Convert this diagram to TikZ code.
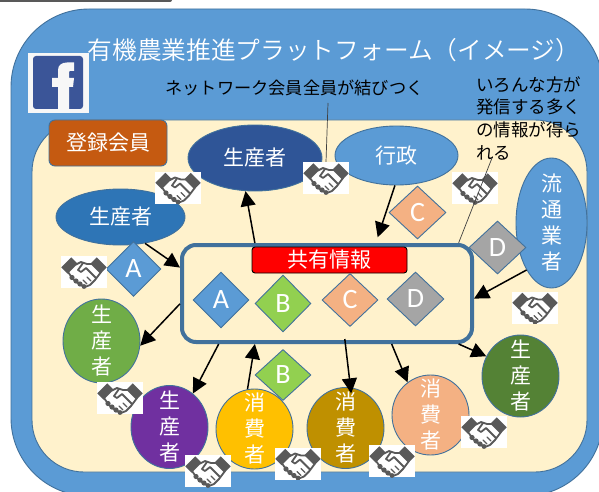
\documentclass[tikz,border=0pt]{standalone}
\usepackage{fontspec}
\setmainfont{Noto Sans CJK JP}
\newfontfamily\latfont{Carlito}
\newfontfamily\lightjp{Noto Sans CJK JP DemiLight}
\usetikzlibrary{shapes.geometric,arrows.meta}
\definecolor{edgeblue}{HTML}{41719C}
\definecolor{skyblue}{HTML}{5B9BD5}
\definecolor{creamy}{HTML}{FFF2CC}
\definecolor{iconGray}{HTML}{595959}
\definecolor{peachy}{HTML}{F4B183}
\definecolor{limey}{HTML}{92D050}
\definecolor{grayD}{HTML}{A5A5A5}
\definecolor{fbblue}{HTML}{3B5598}
\tikzset{
  jp/.style={font=\fontsize{#1}{#1}\selectfont},
  oval/.style={ellipse,draw=edgeblue,line width=0.9pt,text=white,inner sep=0pt,font=\fontsize{21}{26}\selectfont},
  stacked/.style={label={[text=white,align=center,inner sep=0pt,font=\fontsize{21}{26}\selectfont]center:#1}},
  gem/.style={diamond,draw=edgeblue,line width=0.9pt,text=white,inner sep=0pt,font=\latfont\fontsize{28}{28}\selectfont},
  flow/.style={-{Triangle[length=15pt,width=15pt]},line width=1.5pt,black},
  thin line/.style={line width=0.7pt,draw=black!75},
  shake/.style={fill=white,inner sep=0pt,minimum width=46pt,minimum height=32pt,
    path picture={
      \begin{scope}[shift={(path picture bounding box.center)}]
        \fill[iconGray] (-22.7,-4.7)--(-12.7,-14.7)--(-6.3,-8.3)--(-16.3,1.7)--cycle;
        \fill[iconGray] (22.7,-4.7)--(12.7,-14.7)--(6.3,-8.3)--(16.3,1.7)--cycle;
        \draw[iconGray,line width=1.8pt,line join=round,line cap=round]
          (-16,0) -- (-11,7) -- (-5,12) -- (1,15) -- (6,13) -- (11,8) -- (17,0)
          (-8,-7.5) -- (-3,-10) -- (3,-8) -- (8,-8)
          (-1,-9) -- (-6,-2) -- (-3,0) -- (2,-4) -- (12,6);
        \draw[iconGray,line width=1.2pt,line cap=round]
          (7,9)--(3,5) (3,12)--(-1,8);
        \fill[iconGray] (-12,5.5) circle (2.6) (-8,9) circle (2.6) (-4,12) circle (2.6) (0,14.5) circle (2.4);
      \end{scope}
    }},
}
\begin{document}
\begin{tikzpicture}[x=1pt,y=-1pt]
\useasboundingbox (0,0) rectangle (599,492);
\fill[white] (0,0) rectangle (599,492);
\begin{scope}
\clip (0,0) rectangle (599,492);
\fill[iconGray,rounded corners=2pt] (-5,-6) rectangle (172,2);
\draw[edgeblue,fill=skyblue,line width=0.9pt,rounded corners=78pt] (11,9) rectangle (603,496);
\draw[edgeblue,fill=creamy,line width=0.9pt,rounded corners=52pt] (32,120) rectangle (587,472);
\end{scope}

\node[text=white,font=\lightjp\fontsize{24.7}{24.7}\selectfont] (title) at (334,50) {有機農業推進プラットフォーム（イメージ）};
\node[text=black,jp=17.2] (net) at (294.5,88) {ネットワーク会員全員が結びつく};
\node[text=black,align=left,anchor=north west,inner sep=0pt,font=\fontsize{17.5}{22.7}\selectfont] (info) at (476,76) {いろんな方が\\発信する多く\\の情報が得ら\\れる};

% Facebook mark
\node[fill=white!97!black,inner sep=0pt,minimum width=61pt,minimum height=60pt] (fbback) at (58.5,83) {};
\node[fill=fbblue,rounded corners=3pt,inner sep=0pt,minimum width=50pt,minimum height=53pt] (fb) at (58,82.5) {};
\fill[white!97!black] (58,109) -- (58,87) -- (52,87) -- (52,78) -- (58,78) -- (58,70)
  .. controls (58,65) and (62,62.5) .. (67,62.5) -- (74,62.5) -- (74,71) -- (70,71)
  .. controls (69,71) and (69,72) .. (69,73) -- (69,78) -- (74,78) -- (73,87) -- (69,87) -- (69,109) -- cycle;

\node[draw=edgeblue,line width=0.9pt,fill={rgb,255:red,197;green,90;blue,17},rounded corners=6pt,minimum width=118pt,minimum height=46pt,inner sep=0pt,text=white,jp=21] (member) at (108,143) {登録会員};

% ovals
\node[oval,fill={rgb,255:red,47;green,85;blue,151},minimum width=134pt,minimum height=66pt] (prodA) at (255,158) {生産者};
\node[oval,fill=skyblue,minimum width=123pt,minimum height=59pt] (gov) at (396.5,155.5) {行政};
\node[oval,fill={rgb,255:red,46;green,117;blue,182},minimum width=129pt,minimum height=56pt] (prodB) at (120.5,217) {生産者};
\node[oval,fill=skyblue,minimum width=71pt,minimum height=130pt,stacked={流\\通\\業\\者}] (dist) at (551.5,223) {};
\node[oval,fill={rgb,255:red,112;green,173;blue,71},minimum width=77pt,minimum height=84pt,stacked={生\\産\\者}] (prodC) at (101.5,341) {};
\node[oval,fill={rgb,255:red,112;green,48;blue,160},minimum width=77pt,minimum height=83pt,stacked={生\\産\\者}] (prodD) at (169.5,427) {};
\node[oval,fill={rgb,255:red,255;green,192;blue,0},minimum width=77pt,minimum height=80pt,stacked={消\\費\\者}] (consA) at (254.5,429) {};
\node[oval,fill={rgb,255:red,191;green,144;blue,0},minimum width=77pt,minimum height=81pt,stacked={消\\費\\者}] (consB) at (345.5,428) {};
\node[oval,fill=peachy,minimum width=77pt,minimum height=80pt,stacked={消\\費\\者}] (consC) at (430.5,415) {};
\node[oval,fill={rgb,255:red,84;green,130;blue,53},minimum width=77pt,minimum height=82pt,stacked={生\\産\\者}] (prodE) at (520.5,376) {};

% shared information box
\node[draw=edgeblue,line width=4pt,fill=creamy,rounded corners=14pt,minimum width=290pt,minimum height=97pt,inner sep=0pt] (share) at (327,293.5) {};
\node[draw=black,line width=0.9pt,fill=red,rounded corners=3pt,minimum width=155pt,minimum height=26pt,inner sep=0pt,text=white,jp=21] (shared) at (329.5,260) {共有情報};

% arrows
\draw[flow] (share.145) -- (prodA.254);
\draw[flow,shorten >=6pt] (gov.267) -- (share.46);
\draw[flow] (prodB.313) -- (share.170);
\draw[flow] (share.184) -- (prodC.353);
\draw[flow] (share.205) -- (prodD.55);
\draw[flow] (consA.100) -- (share.215);
\draw[flow,shorten <=-5pt,shorten >=-6pt] (share.290) -- (consB.83);
\draw[flow] (share.322) -- (consC.125);
\draw[flow] (share.339) -- (prodE.150);
\draw[flow] (dist.242) -- (share.358);

% diamonds
\node[gem,fill=skyblue,minimum width=56pt,minimum height=56pt] (a1) at (221,300) {A};
\node[gem,fill=limey,minimum width=56pt,minimum height=57pt] (b1) at (283,303.5) {B};
\node[gem,fill=peachy,minimum width=56pt,minimum height=53pt] (c1) at (350,300) {C};
\node[gem,fill=grayD,minimum width=57pt,minimum height=54pt] (d1) at (415.5,299) {D};
\node[gem,fill=skyblue,minimum width=55pt,minimum height=55pt] (a2) at (133.5,269) {A};
\node[gem,fill=limey,minimum width=56pt,minimum height=51pt] (b2) at (283,375) {B};
\node[gem,fill=peachy,minimum width=57pt,minimum height=53pt] (c2) at (417.5,212.5) {C};
\node[gem,fill=grayD,minimum width=57pt,minimum height=53pt] (d2) at (497.5,247.5) {D};

% handshakes
\node[shake] (h1) at (178,187.5) {};
\node[shake] (h2) at (326,178) {};
\node[shake] (h3) at (475,188) {};
\node[shake] (h4) at (84,272) {};
\node[shake] (h5) at (120,398) {};
\node[shake] (h6) at (208,471) {};
\node[shake] (h7) at (298,463.5) {};
\node[shake] (h8) at (392,461) {};
\node[shake] (h9) at (484,432) {};
\node[shake] (h10) at (535,307.5) {};

% callout lines
\coordinate (netfoot) at (328,103);
\coordinate (infofoot) at (492,158);
\draw[thin line] (netfoot) -- (h2.north);
\draw[thin line] (infofoot) -- (share.21);
\end{tikzpicture}
\end{document}
